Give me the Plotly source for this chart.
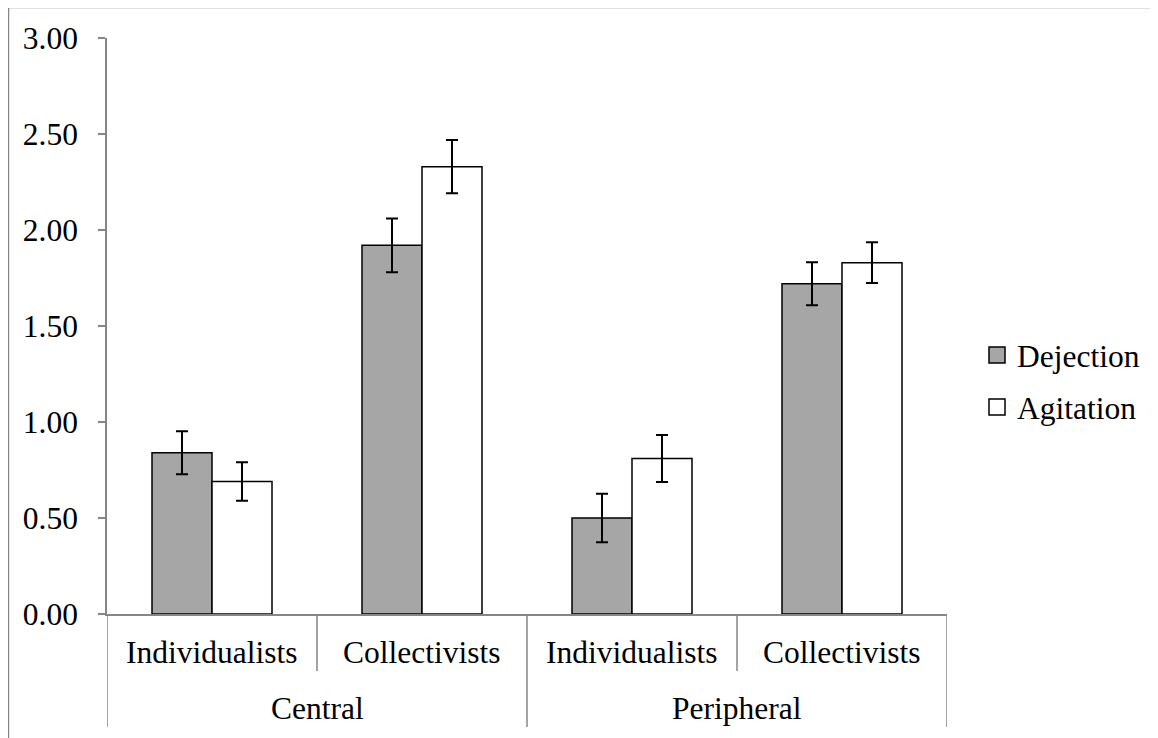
import plotly.graph_objects as go

groups = ["Central", "Central", "Peripheral", "Peripheral"]
subgroups = ["Individualists", "Collectivists", "Individualists", "Collectivists"]
dejection = [0.84, 1.92, 0.50, 1.72]
dejection_err = [0.112, 0.14, 0.126, 0.112]
agitation = [0.69, 2.33, 0.81, 1.83]
agitation_err = [0.10, 0.139, 0.122, 0.106]
y_ticks = [0, 0.5, 1.0, 1.5, 2.0, 2.5, 3.0]

FONT = "Liberation Serif, Times New Roman, serif"
FS = 31.5
GRAY = "#868686"
xpos = list(range(len(subgroups)))

fig = go.Figure()
fig.add_trace(go.Bar(
    x=xpos, y=dejection, name="Dejection", showlegend=False,
    marker=dict(color="#A6A6A6", line=dict(color="black", width=1.5)),
    error_y=dict(type="data", array=dejection_err, color="black", thickness=2, width=6),
))
fig.add_trace(go.Bar(
    x=xpos, y=agitation, name="Agitation", showlegend=False,
    marker=dict(color="white", line=dict(color="black", width=1.5)),
    error_y=dict(type="data", array=agitation_err, color="black", thickness=2, width=6),
))
# legend entries
for nm, col, grp in [("Dejection", "#A6A6A6", "a"), ("Agitation", "white", "b")]:
    fig.add_trace(go.Scatter(
        x=[None], y=[None], mode="markers", name=nm, legendgroup=grp,
        marker=dict(symbol="square", size=16, color=col, line=dict(color="black", width=1.5)),
    ))

OFF = 8  # page body margin
W, H = 1150, 730
L, R, T, B = 99, 211, 30, 124
pw, ph = W - L - R, H - T - B

def py(page_y):
    return (H - B - (page_y - OFF)) / ph

def px(page_x):
    return (page_x - OFF - L) / pw

shapes = []
for xb in [0.5, 2.5]:
    shapes.append(dict(type="line", xref="x", yref="paper", x0=xb, x1=xb, y0=0, y1=py(671),
                       line=dict(color=GRAY, width=1.5)))
for xb in [-0.5, 1.5, 3.5]:
    shapes.append(dict(type="line", xref="x", yref="paper", x0=xb, x1=xb, y0=0, y1=py(727),
                       line=dict(color=GRAY, width=1.5)))
# chart frame
shapes.append(dict(type="line", xref="paper", yref="paper", x0=px(8.5), x1=px(8.5), y0=py(7.5), y1=py(745),
                   line=dict(color=GRAY, width=1.5)))
shapes.append(dict(type="line", xref="paper", yref="paper", x0=px(8.5), x1=px(1165), y0=py(7.5), y1=py(7.5),
                   line=dict(color=GRAY, width=1.5)))

annotations = []
for i, s in enumerate(subgroups):
    annotations.append(dict(x=i, y=py(652), xref="x", yref="paper", text=s, showarrow=False,
                            xanchor="center", yanchor="middle", font=dict(family=FONT, size=FS, color="black")))
for g, c in [("Central", 0.5), ("Peripheral", 2.5)]:
    annotations.append(dict(x=c, y=py(708), xref="x", yref="paper", text=g, showarrow=False,
                            xanchor="center", yanchor="middle", font=dict(family=FONT, size=FS, color="black")))

fig.update_layout(
    width=W, height=H,
    margin=dict(l=L, r=R, t=T, b=B, pad=0),
    paper_bgcolor="white", plot_bgcolor="white",
    barmode="group", bargap=0.4286, bargroupgap=0,
    font=dict(family=FONT, size=FS, color="black"),
    showlegend=True,
    legend=dict(x=px(977), y=py(328), xanchor="left", yanchor="top",
                traceorder="grouped", tracegroupgap=8,
                font=dict(family=FONT, size=FS, color="black"),
                bgcolor="rgba(0,0,0,0)", borderwidth=0),
    shapes=shapes,
    annotations=annotations,
)
fig.update_xaxes(range=[-0.5, 3.5], showticklabels=False, ticks="", showgrid=False,
                 showline=True, linecolor=GRAY, linewidth=1.5, zeroline=False, fixedrange=True)
fig.update_yaxes(range=[0, 3], tickvals=y_ticks, tickformat=".2f", ticks="outside", ticklen=7,
                 tickcolor=GRAY, tickwidth=1.5, showgrid=False, showline=True, linecolor=GRAY,
                 linewidth=1.5, zeroline=False, ticklabelstandoff=14,
                 tickfont=dict(family=FONT, size=FS, color="black"))

fig.write_html("out.html")
